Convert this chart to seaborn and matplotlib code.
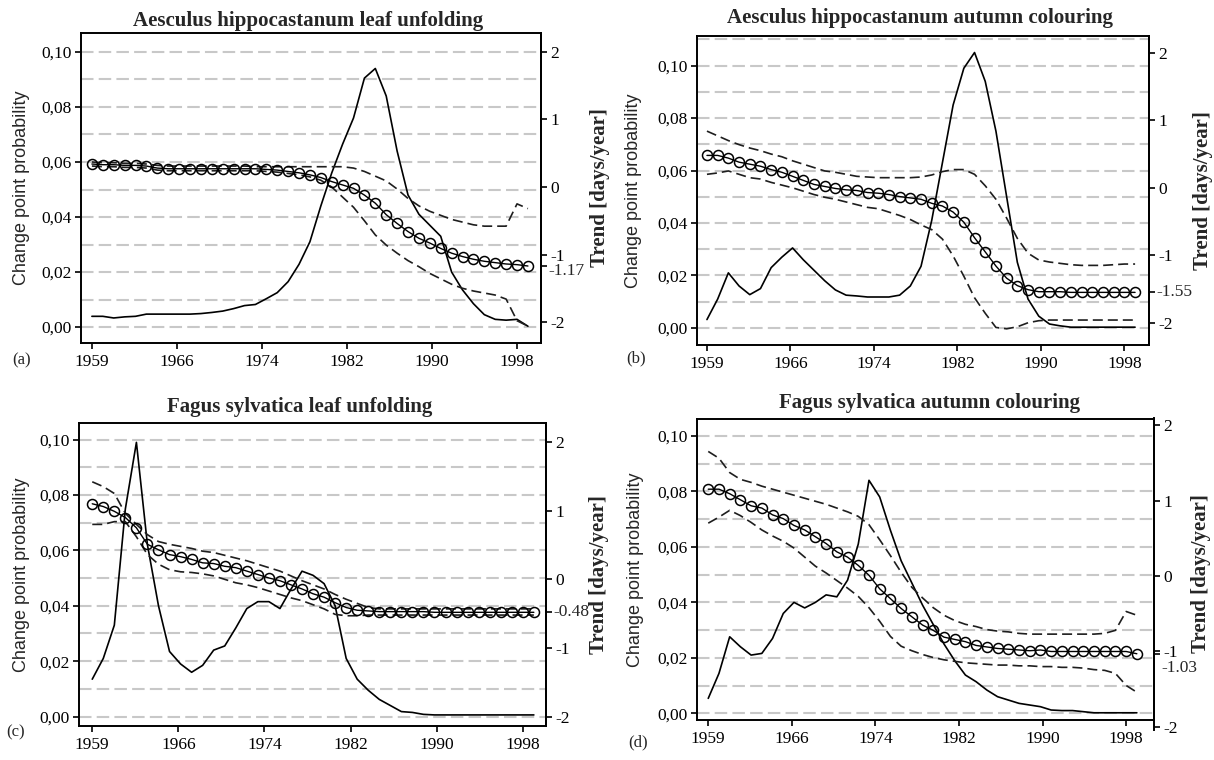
import matplotlib
matplotlib.use("Agg")
import matplotlib.pyplot as plt
from matplotlib.ticker import MultipleLocator
import seaborn as sns

# ---------------------------------------------------------------- data
years = list(range(1959, 2000))

year_ticks = [1959, 1966.8, 1974.6, 1982.4, 1990.2, 1998]
year_labels = ["1959", "1966", "1974", "1982", "1990", "1998"]
prob_ticks = [0.00, 0.02, 0.04, 0.06, 0.08, 0.10]
trend_ticks = [2, 1, 0, -1, -2]

titles = [
    "Aesculus hippocastanum leaf unfolding",
    "Aesculus hippocastanum autumn colouring",
    "Fagus sylvatica leaf unfolding",
    "Fagus sylvatica autumn colouring",
]
letters = ["(a)", "(b)", "(c)", "(d)"]

# (a) Aesculus hippocastanum, leaf unfolding
a_prob = [0.0039, 0.0039, 0.0033, 0.0037, 0.0039, 0.0047, 0.0047, 0.0047, 0.0047, 0.0047,
          0.0049, 0.0053, 0.0058, 0.0067, 0.0078, 0.0082, 0.0103, 0.0125, 0.0165, 0.0228,
          0.0310, 0.0440, 0.0560, 0.0665, 0.0760, 0.0905, 0.0940, 0.0840, 0.0640, 0.0480,
          0.0410, 0.0370, 0.0330, 0.0200, 0.0135, 0.0085, 0.0045, 0.0028, 0.0025, 0.0028, 0.0003]
a_trend = [0.34, 0.33, 0.33, 0.32, 0.32, 0.31, 0.28, 0.27, 0.27, 0.27,
           0.27, 0.27, 0.27, 0.27, 0.27, 0.27, 0.26, 0.25, 0.23, 0.21,
           0.18, 0.14, 0.08, 0.03, -0.02, -0.12, -0.24, -0.41, -0.54, -0.66,
           -0.76, -0.83, -0.91, -0.98, -1.03, -1.07, -1.10, -1.12, -1.14, -1.15, -1.17]
a_upper = [0.37, 0.36, 0.36, 0.35, 0.35, 0.34, 0.32, 0.31, 0.31, 0.31,
           0.31, 0.31, 0.31, 0.31, 0.31, 0.30, 0.30, 0.30, 0.30, 0.30,
           0.30, 0.30, 0.30, 0.30, 0.28, 0.23, 0.16, 0.09, -0.03, -0.17,
           -0.28, -0.36, -0.42, -0.48, -0.52, -0.56, -0.58, -0.58, -0.58, -0.25, -0.32]
a_lower = [0.31, 0.30, 0.30, 0.29, 0.29, 0.28, 0.25, 0.24, 0.24, 0.24,
           0.24, 0.24, 0.24, 0.24, 0.24, 0.24, 0.23, 0.22, 0.20, 0.18,
           0.15, 0.10, 0.00, -0.15, -0.30, -0.50, -0.71, -0.86, -0.98, -1.09,
           -1.18, -1.28, -1.36, -1.44, -1.50, -1.54, -1.57, -1.60, -1.66, -1.98, -2.06]

# (b) Aesculus hippocastanum, autumn colouring
b_prob = [0.0032, 0.011, 0.021, 0.016, 0.0127, 0.015, 0.023, 0.027, 0.0305, 0.026,
          0.022, 0.018, 0.0145, 0.0125, 0.0122, 0.0118, 0.0118, 0.0118, 0.0125, 0.016,
          0.0235, 0.041, 0.063, 0.085, 0.099, 0.105, 0.094, 0.075, 0.050, 0.025,
          0.011, 0.0045, 0.0015, 0.0008, 0.0003, 0.0003, 0.0003, 0.0003, 0.0003, 0.0003, 0.0003]
b_trend = [0.48, 0.48, 0.44, 0.38, 0.35, 0.32, 0.27, 0.23, 0.17, 0.11,
           0.05, 0.02, -0.01, -0.03, -0.04, -0.07, -0.08, -0.10, -0.13, -0.15,
           -0.17, -0.23, -0.27, -0.36, -0.51, -0.74, -0.95, -1.16, -1.34, -1.45,
           -1.51, -1.54, -1.54, -1.54, -1.55, -1.55, -1.55, -1.55, -1.55, -1.55, -1.55]
b_upper = [0.84, 0.77, 0.70, 0.64, 0.59, 0.55, 0.50, 0.46, 0.40, 0.35,
           0.30, 0.25, 0.23, 0.20, 0.17, 0.16, 0.15, 0.15, 0.15, 0.15,
           0.16, 0.19, 0.24, 0.27, 0.27, 0.20, 0.03, -0.17, -0.45, -0.75,
           -0.97, -1.07, -1.10, -1.12, -1.14, -1.15, -1.15, -1.15, -1.14, -1.13, -1.13]
b_lower = [0.20, 0.22, 0.25, 0.20, 0.15, 0.13, 0.08, 0.04, 0.00, -0.05,
           -0.10, -0.14, -0.17, -0.21, -0.25, -0.29, -0.31, -0.36, -0.41, -0.47,
           -0.55, -0.62, -0.76, -1.01, -1.31, -1.63, -1.86, -2.07, -2.09, -2.06,
           -2.00, -1.97, -1.96, -1.96, -1.96, -1.96, -1.96, -1.96, -1.96, -1.96, -1.96]

# (c) Fagus sylvatica, leaf unfolding
c_prob = [0.0135, 0.021, 0.033, 0.075, 0.099, 0.062, 0.040, 0.0235, 0.019, 0.016,
          0.0185, 0.024, 0.0255, 0.032, 0.039, 0.0415, 0.0415, 0.039, 0.046, 0.0525,
          0.051, 0.048, 0.040, 0.021, 0.0135, 0.0095, 0.0062, 0.004, 0.0018, 0.0015,
          0.0008, 0.0006, 0.0006, 0.0006, 0.0006, 0.0006, 0.0006, 0.0006, 0.0006, 0.0006, 0.0006]
c_trend = [1.10, 1.06, 0.99, 0.90, 0.75, 0.51, 0.43, 0.36, 0.33, 0.29,
           0.24, 0.23, 0.19, 0.17, 0.12, 0.07, 0.02, -0.02, -0.08, -0.14,
           -0.21, -0.26, -0.34, -0.41, -0.45, -0.46, -0.47, -0.47, -0.47, -0.47,
           -0.47, -0.48, -0.48, -0.48, -0.48, -0.48, -0.48, -0.48, -0.48, -0.48, -0.48]
c_upper = [1.42, 1.35, 1.25, 0.96, 0.80, 0.65, 0.55, 0.51, 0.48, 0.45,
           0.41, 0.39, 0.35, 0.31, 0.27, 0.22, 0.17, 0.12, 0.05, -0.02,
           -0.08, -0.14, -0.22, -0.29, -0.35, -0.41, -0.43, -0.43, -0.43, -0.43,
           -0.43, -0.43, -0.43, -0.43, -0.43, -0.43, -0.43, -0.43, -0.43, -0.43, -0.43]
c_lower = [0.80, 0.80, 0.84, 0.84, 0.62, 0.36, 0.22, 0.14, 0.11, 0.10,
           0.08, 0.05, 0.00, -0.05, -0.08, -0.12, -0.17, -0.22, -0.27, -0.31,
           -0.37, -0.43, -0.51, -0.53, -0.53, -0.52, -0.52, -0.52, -0.52, -0.52,
           -0.52, -0.52, -0.52, -0.52, -0.52, -0.52, -0.52, -0.52, -0.52, -0.52, -0.52]

# (d) Fagus sylvatica, autumn colouring
d_prob = [0.0054, 0.0144, 0.0276, 0.024, 0.021, 0.0216, 0.027, 0.036, 0.040, 0.038,
          0.040, 0.0427, 0.042, 0.048, 0.061, 0.084, 0.078, 0.066, 0.055, 0.047,
          0.039, 0.032, 0.025, 0.019, 0.0138, 0.0114, 0.0084, 0.006, 0.0048, 0.0036,
          0.003, 0.0024, 0.0012, 0.001, 0.001, 0.0006, 0.0002, 0.0002, 0.0002, 0.0002, 0.0002]
d_trend = [1.15, 1.15, 1.09, 1.01, 0.93, 0.90, 0.81, 0.76, 0.67, 0.61,
           0.52, 0.43, 0.32, 0.25, 0.14, 0.01, -0.17, -0.30, -0.43, -0.54,
           -0.65, -0.72, -0.81, -0.84, -0.87, -0.92, -0.94, -0.96, -0.97, -0.98,
           -0.99, -0.98, -1.00, -1.00, -1.00, -1.00, -1.00, -1.00, -1.00, -1.00, -1.03]
d_upper = [1.65, 1.56, 1.37, 1.28, 1.24, 1.19, 1.15, 1.11, 1.07, 1.03,
           0.99, 0.95, 0.90, 0.85, 0.79, 0.68, 0.48, 0.27, 0.05, -0.15,
           -0.29, -0.42, -0.52, -0.59, -0.64, -0.67, -0.71, -0.73, -0.74, -0.76,
           -0.77, -0.77, -0.77, -0.77, -0.77, -0.77, -0.77, -0.76, -0.72, -0.47, -0.52]
d_lower = [0.70, 0.78, 0.87, 0.80, 0.71, 0.61, 0.53, 0.46, 0.37, 0.25,
           0.13, 0.04, -0.06, -0.16, -0.27, -0.42, -0.60, -0.80, -0.93, -0.99,
           -1.04, -1.08, -1.11, -1.13, -1.15, -1.16, -1.17, -1.18, -1.18, -1.19,
           -1.19, -1.20, -1.20, -1.21, -1.21, -1.22, -1.24, -1.25, -1.29, -1.45, -1.54]

series = [
    (a_prob, a_trend, a_upper, a_lower),
    (b_prob, b_trend, b_upper, b_lower),
    (c_prob, c_trend, c_upper, c_lower),
    (d_prob, d_trend, d_upper, d_lower),
]

# ---------------------------------------------------------------- layout (pixels)
W, H = 1214, 760
layout = [
    dict(box=(81, 33, 541, 343), tbox=(81, 33, 541, 343), xlim=(1958.0, 2000.2),
         ylim=(-0.0058, 0.1069), tlim=(-2.31, 2.28), title=(308, 21), letter=(22, 360),
         ylab=22, tlab=600, end_off=5),
    dict(box=(697, 36, 1149, 345), tbox=(697, 36, 1149, 345), xlim=(1958.07, 2000.3),
         ylim=(-0.0065, 0.1113), tlim=(-2.33, 2.25), title=(920, 18), letter=(636, 358),
         ylab=633, tlab=1203, end_off=0),
    dict(box=(79, 423, 546, 726), tbox=(79, 423, 546, 726), xlim=(1957.8, 2000.1),
         ylim=(-0.0034, 0.106), tlim=(-2.135, 2.276), title=(300, 407), letter=(16, 732),
         ylab=22, tlab=599, end_off=0),
    dict(box=(697, 419, 1154, 720), tbox=(697, 418, 1154, 730), xlim=(1957.95, 2000.6),
         ylim=(-0.0024, 0.1061), tlim=(-2.04, 2.093), title=(930, 403), letter=(638, 742),
         ylab=635, tlab=1201, end_off=14),
]


def rect(l, t, r, b):
    return [l / W, 1 - b / H, (r - l) / W, (b - t) / H]


sns.set_theme(style="ticks")
plt.rcParams["font.family"] = ["Liberation Serif", "DejaVu Serif"]
plt.rcParams["axes.unicode_minus"] = False
plt.rcParams["axes.edgecolor"] = "black"
plt.rcParams["axes.linewidth"] = 1.4

TICK_FS = 12.5
GRID_COLOR = "#c8c8c8"
BAND_STYLE = (0, (6, 3))

fig = plt.figure(figsize=(W / 100, H / 100), dpi=100)

for (prob, trend, upper, lower), lay, title, letter in zip(series, layout, titles, letters):
    ax = fig.add_axes(rect(*lay["box"]))
    ax2 = fig.add_axes(rect(*lay["tbox"]))
    ax2.patch.set_visible(False)

    # change point probability (left scale)
    sns.lineplot(x=years, y=prob, ax=ax, color="black", lw=1.2, estimator=None)

    # trend with its confidence band (right scale)
    sns.lineplot(x=years, y=upper, ax=ax2, color="#1e1e1e", lw=1.2,
                 linestyle=BAND_STYLE, estimator=None)
    sns.lineplot(x=years, y=lower, ax=ax2, color="#1e1e1e", lw=1.2,
                 linestyle=BAND_STYLE, estimator=None)
    sns.lineplot(x=years, y=trend, ax=ax2, color="black", lw=1.0, marker="o",
                 markersize=7.2, markerfacecolor="none", markeredgecolor="black",
                 markeredgewidth=1.1, estimator=None)

    # left axis
    ax.set_xlim(*lay["xlim"])
    ax.set_ylim(*lay["ylim"])
    ax.set_xticks(year_ticks, year_labels)
    ax.set_yticks(prob_ticks, [f"{v:.2f}".replace(".", ",") for v in prob_ticks])
    ax.yaxis.set_minor_locator(MultipleLocator(0.01))
    ax.tick_params(axis="y", which="minor", length=0)
    ax.grid(True, axis="y", which="both", color=GRID_COLOR, lw=1.5, linestyle=(0, (6, 2.5)))
    ax.set_axisbelow(True)
    ax.tick_params(axis="both", which="major", direction="out", length=4, width=1.2,
                   labelsize=TICK_FS, pad=3, top=False, right=False, colors="black")
    ax.tick_params(axis="x", pad=4)
    ax.set_xlabel("")
    ax.set_ylabel("Change point probability", family=["Liberation Sans", "DejaVu Sans"],
                  fontsize=13)
    l, t, r, b = lay["box"]
    ax.yaxis.set_label_coords((lay["ylab"] - l) / (r - l), 0.5)
    ax.yaxis.label.set_verticalalignment("center")
    for s in ax.spines.values():
        s.set_visible(True)
        s.set_color("black")

    # right axis
    ax2.set_xlim(*lay["xlim"])
    ax2.set_ylim(*lay["tlim"])
    ax2.xaxis.set_visible(False)
    for s in ("left", "top", "bottom"):
        ax2.spines[s].set_visible(False)
    ax2.spines["right"].set_visible(True)
    ax2.yaxis.tick_right()
    ax2.set_yticks(trend_ticks + [trend[-1]], [str(v) for v in trend_ticks] + [""])
    ax2.tick_params(axis="y", direction="out", length=4, width=1.2, labelsize=TICK_FS,
                    pad=3, left=False, right=True, labelleft=False, labelright=True,
                    colors="black")
    ax2.annotate(f"{trend[-1]:.2f}", xy=(1, trend[-1]), xycoords=("axes fraction", "data"),
                 xytext=(5.5, -lay["end_off"] / 1.389), textcoords="offset points",
                 ha="left", va="center", fontsize=TICK_FS)
    ax2.set_ylabel("Trend [days/year]", fontsize=15, fontweight="bold")
    ax2.yaxis.set_label_position("right")
    tl, tt, tr, tb = lay["tbox"]
    ax2.yaxis.set_label_coords((lay["tlab"] - tl) / (tr - tl), 0.5)
    ax2.yaxis.label.set_verticalalignment("center")

    fig.text(lay["title"][0] / W, 1 - lay["title"][1] / H, title, ha="center", va="center",
             fontsize=15, fontweight="bold")
    fig.text(lay["letter"][0] / W, 1 - lay["letter"][1] / H, letter, ha="center",
             va="center", fontsize=12)

fig.savefig("out.png", dpi=100, facecolor="white")
